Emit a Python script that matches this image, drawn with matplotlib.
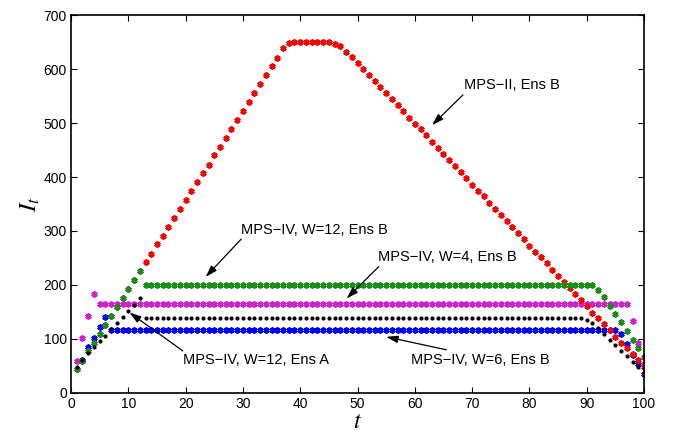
import numpy as np
import matplotlib
matplotlib.use('Agg')
import matplotlib.pyplot as plt

plt.rcParams['font.family'] = ['Liberation Sans', 'DejaVu Sans']
plt.rcParams['mathtext.fontset'] = 'stix'

# time steps
t = list(range(1, 101))

# MPS-II, Ens B (red)
red = [44, 60, 77, 93, 110, 126, 143, 159, 176, 192,
       209, 225, 242, 258, 275, 291, 308, 324, 341, 357,
       374, 390, 407, 423, 440, 456, 473, 489, 506, 522,
       539, 555, 572, 588, 605, 621, 639, 648, 650, 650,
       650, 650, 650, 650, 650, 647, 642, 632, 622, 611,
       600, 589, 578, 567, 556, 544, 533, 522, 510, 499,
       488, 477, 465, 454, 443, 431, 420, 409, 398, 386,
       375, 364, 352, 341, 330, 319, 307, 296, 285, 273,
       262, 251, 240, 228, 217, 206, 194, 183, 172, 161,
       149, 138, 127, 116, 104, 93, 83, 72, 61, 49]

# MPS-IV, W=12, Ens B (green)
green = ([44, 60, 77, 93, 110, 126, 143, 159, 176, 192, 209, 225]
         + [200] * 79
         + [191, 177, 162, 146, 131, 115, 99, 83, 67])

# MPS-IV, W=4, Ens B (magenta)
magenta = [60, 101, 142, 183] + [165] * 93 + [133, 93, 53]

# MPS-IV, W=6, Ens B (blue)
blue = [45, 62, 85, 102, 122, 140] + [117] * 89 + [109, 90, 71, 53, 36]

# MPS-IV, W=12, Ens A (black)
black = ([49, 61, 74, 85, 96, 106, 118, 129, 140, 152, 163, 175]
         + [138] * 77
         + [136, 130, 120, 110, 99, 89, 78, 68, 58, 48, 37])

fig = plt.figure(figsize=(6.79, 4.34), dpi=100)
ax = fig.add_axes([0.1046, 0.0945, 0.8439, 0.8709])

star = (6, 2, 0)
ms = 4.4
mew = 1.4
ax.plot(t, blue, linestyle='none', marker=star, markersize=ms, markeredgewidth=mew, color='#0000ff')
ax.plot(t, magenta, linestyle='none', marker=star, markersize=ms, markeredgewidth=mew, color='#d020d0')
ax.plot(t, red, linestyle='none', marker=star, markersize=ms, markeredgewidth=mew, color='#ff0000')
ax.plot(t, green, linestyle='none', marker=star, markersize=ms, markeredgewidth=mew, color='#1a8c1a')
ax.plot(t, black, linestyle='none', marker='.', markersize=4, color='k')

ax.set_xlim(0, 100)
ax.set_ylim(0, 700)
ax.set_xticks(np.arange(0, 101, 10))
ax.set_yticks(np.arange(0, 701, 100))
ax.tick_params(direction='in', length=4, width=0.8, top=True, right=True,
               labelsize=10, pad=3)
for s in ax.spines.values():
    s.set_linewidth(1.2)

ax.set_xlabel('$t$', fontsize=17, labelpad=0)
ax.set_ylabel('$I_t$', fontsize=18, labelpad=1)

arrow = dict(arrowstyle='-|>,head_length=0.7,head_width=0.22', color='k',
             lw=0.9, shrinkA=0, shrinkB=0)

# annotations: arrow tail -> tip, then label
ax.annotate('', xy=(63.0, 496), xytext=(68.4, 552), arrowprops=arrow)
ax.text(68.6, 570, 'MPS\u2212II, Ens B', fontsize=10.5, ha='left', va='center')

ax.annotate('', xy=(23.5, 215), xytext=(29.7, 285), arrowprops=arrow)
ax.text(29.6, 302, 'MPS\u2212IV, W=12, Ens B', fontsize=10.5, ha='left', va='center')

ax.annotate('', xy=(48.1, 175), xytext=(53.7, 234), arrowprops=arrow)
ax.text(53.6, 251, 'MPS\u2212IV, W=4, Ens B', fontsize=10.5, ha='left', va='center')

ax.annotate('', xy=(10.2, 149), xytext=(19.5, 78), arrowprops=arrow)
ax.text(19.6, 61, 'MPS\u2212IV, W=12, Ens A', fontsize=10.5, ha='left', va='center')

ax.annotate('', xy=(55.0, 104), xytext=(65.5, 80), arrowprops=arrow)
ax.text(59.4, 61, 'MPS\u2212IV, W=6, Ens B', fontsize=10.5, ha='left', va='center')

fig.savefig('out.png', dpi=100)
